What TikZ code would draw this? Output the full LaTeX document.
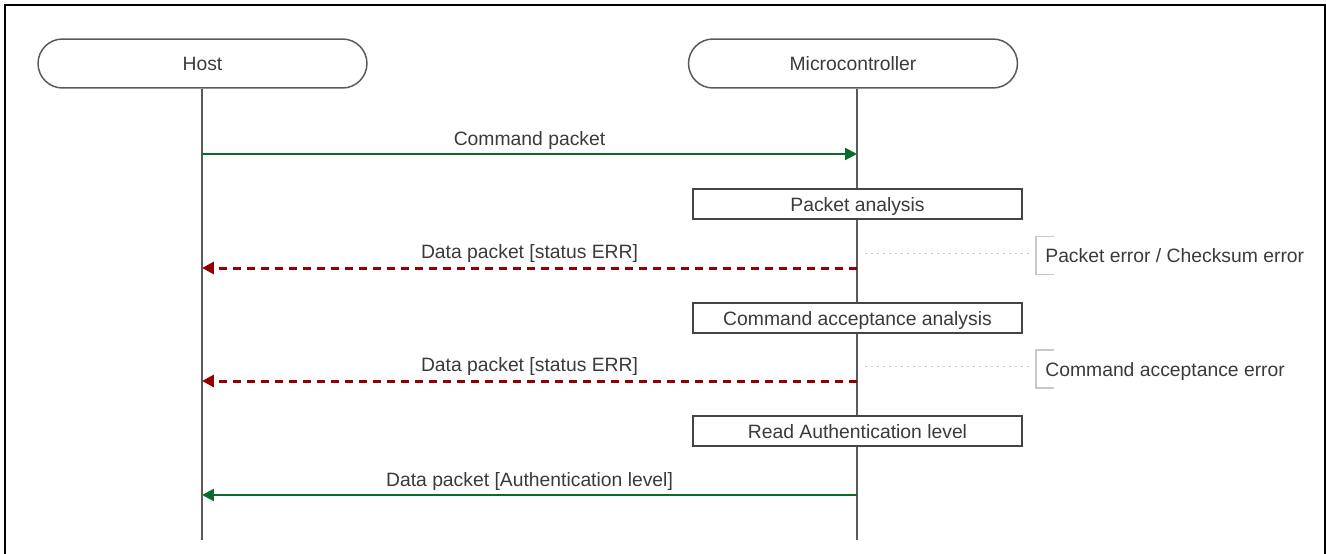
\documentclass[tikz,border=0pt]{standalone}
\usepackage{fontspec}
\setmainfont{Liberation Sans}
\usetikzlibrary{shapes.misc,arrows.meta,calc,positioning}

\definecolor{okgreen}{HTML}{0B6B2E}
\definecolor{errred}{HTML}{940000}
\definecolor{lifegray}{HTML}{5A5A5A}
\definecolor{boxgray}{HTML}{444444}
\definecolor{notegray}{HTML}{C8C8C8}
\definecolor{txtgray}{HTML}{3A3A3A}

\begin{document}
\begin{tikzpicture}[x=0.02cm,y=-0.02cm,font=\fontsize{11}{13}\selectfont,text=txtgray]
	\tikzset{
		actor/.style={draw=lifegray, line width=0.03cm, rounded rectangle,
				minimum width=6.58cm, minimum height=0.98cm, inner sep=0pt},
		lifeline/.style={draw=lifegray, line width=0.035cm},
		stepbox/.style={draw=boxgray, fill=white, line width=0.035cm,
				minimum width=6.58cm, minimum height=0.6cm, inner sep=0pt, text depth=0pt},
		okmsg/.style={draw=okgreen, line width=0.05cm,
				-{Triangle[length=0.24cm,width=0.24cm]}},
		errmsg/.style={draw=errred, line width=0.06cm, dash pattern=on 0.16cm off 0.12cm,
				-{Triangle[length=0.24cm,width=0.24cm]}},
		msglabel/.style={above=0pt, inner sep=2pt},
		guide/.style={draw=notegray, line width=0.02cm, dash pattern=on 0.04cm off 0.08cm},
		note/.style={anchor=west, inner sep=0pt, minimum height=0.74cm, text depth=0pt},
		bracket/.style={draw=notegray, line width=0.03cm},
	}
	\useasboundingbox (0,0) rectangle (1326,554);
	% frame
	\draw[line width=0.04cm] (5,554) -- (5,5) -- (1325,5) -- (1325,554);

	% participants
	\node[actor] (host) at (202.5,63.5) {Host};
	\node[actor] (mcu) at (853,63.5) {Microcontroller};
	\coordinate (hostend) at (202,540);
	\coordinate (mcuend) at (857,540);
	\draw[lifeline] (host.south -| hostend) -- (hostend);
	\draw[lifeline] (mcu.south -| mcuend) -- (mcuend);

	% steps on the microcontroller
	\node[stepbox] (s1) at (857.5,204) {Packet analysis};
	\node[stepbox] (s2) at (857.5,318) {Command acceptance analysis};
	\node[stepbox] (s3) at (857.5,431) {Read Authentication level};

	% messages
	\coordinate (h1) at (202,154);
	\coordinate (m1) at (857,154);
	\coordinate (h2) at (202,268);
	\coordinate (m2) at (857,268);
	\coordinate (h3) at (202,381);
	\coordinate (m3) at (857,381);
	\coordinate (h4) at (202,495);
	\coordinate (m4) at (857,495);
	\draw[okmsg] (h1) -- node[msglabel] {Command packet} (m1);
	\draw[errmsg] (m2) -- node[msglabel] {Data packet [status ERR]} (h2);
	\draw[errmsg] (m3) -- node[msglabel] {Data packet [status ERR]} (h3);
	\draw[okmsg] (m4) -- node[msglabel] {Data packet [Authentication level]} (h4);

	% error notes
	\node[note] (n1) at (1045,255.5) {Packet error / Checksum error};
	\node[note] (n2) at (1045,369) {Command acceptance error};
	\coordinate (g1) at (865,253.3);
	\coordinate (g2) at (865,366.7);
	\draw[guide] (g1) -- ($(g1 -| n1.west)+(-15,0)$);
	\draw[guide] (g2) -- ($(g2 -| n2.west)+(-15,0)$);
	\draw[bracket] ($(n1.north west)+(9,0)$) -- ($(n1.north west)+(-9,0)$)
		-- ($(n1.south west)+(-9,0)$) -- ($(n1.south west)+(9,0)$);
	\draw[bracket] ($(n2.north west)+(9,0)$) -- ($(n2.north west)+(-9,0)$)
		-- ($(n2.south west)+(-9,0)$) -- ($(n2.south west)+(9,0)$);
\end{tikzpicture}
\end{document}
